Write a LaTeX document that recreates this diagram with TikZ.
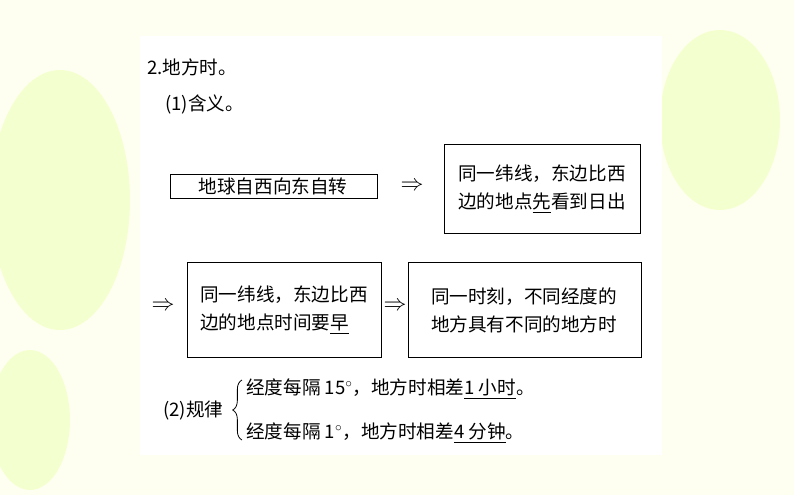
\documentclass[tikz,border=0pt]{standalone}
\usepackage{fontspec}
\newfontfamily\cjk{Noto Sans CJK SC}
\usetikzlibrary{decorations.pathreplacing}
\tikzset{
  txt/.style={font=\cjk\fontsize{14}{21}\selectfont, inner sep=0pt},
  arr/.style={font=\fontsize{17}{20}\selectfont, inner sep=0pt},
  framebox/.style={draw, line width=0.6pt, inner sep=0pt},
  leaf/.style={fill=green!25!yellow!30, opacity=0.5},
}
\begin{document}
\begin{tikzpicture}[x=0.02646cm, y=-0.02646cm]
  \useasboundingbox (0,0) rectangle (794,495);
  % background
  \fill[green!4!yellow!6] (0,0) rectangle (794,495);
  \fill[leaf] (60,200) ellipse (70 and 130);
  \fill[leaf] (720,120) ellipse (60 and 90);
  \fill[leaf] (30,420) ellipse (40 and 70);
  \fill[white] (140,36) rectangle (662,455);
  % headings
  \node[txt, anchor=west] (title) at (147,67) {2.地方时。};
  \node[txt, anchor=west] (mean) at (165,104) {(1)含义。};
  % first row
  \draw[framebox] (170,174) rectangle (377,198);
  \node[txt] (rot) at (273,186) {地球自西向东自转};
  \node[arr] (arr1) at (412,186) {$\Rightarrow$};
  \draw[framebox] (444,144) rectangle (640,233);
  \node[txt, align=left] (east) at (542,189)
    {同一纬线，东边比西\\边的地点\underline{先}看到日出};
  % second row
  \node[arr] (arr2) at (163,306) {$\Rightarrow$};
  \draw[framebox] (187,262) rectangle (381,357);
  \node[txt, align=left] (early) at (284,310)
    {同一纬线，东边比西\\边的地点时间要\underline{早}};
  \node[arr] (arr3) at (395,306) {$\Rightarrow$};
  \draw[framebox] (408,262) rectangle (641,357);
  \node[txt, align=left] (diff) at (524,310)
    {同一时刻，不同经度的\\地方具有不同的地方时};
  % rules
  \node[txt, anchor=west] (rule) at (163,411) {(2)规律};
  \draw[line width=0.6pt, decorate, decoration={brace, amplitude=7pt}]
    (242,440) -- (242,380);
  \node[txt, anchor=west] (r1) at (246,389)
    {经度每隔 15$^\circ$，地方时相差\underline{1 小时}。};
  \node[txt, anchor=west] (r2) at (246,433)
    {经度每隔 1$^\circ$，地方时相差\underline{4 分钟}。};
\end{tikzpicture}
\end{document}
